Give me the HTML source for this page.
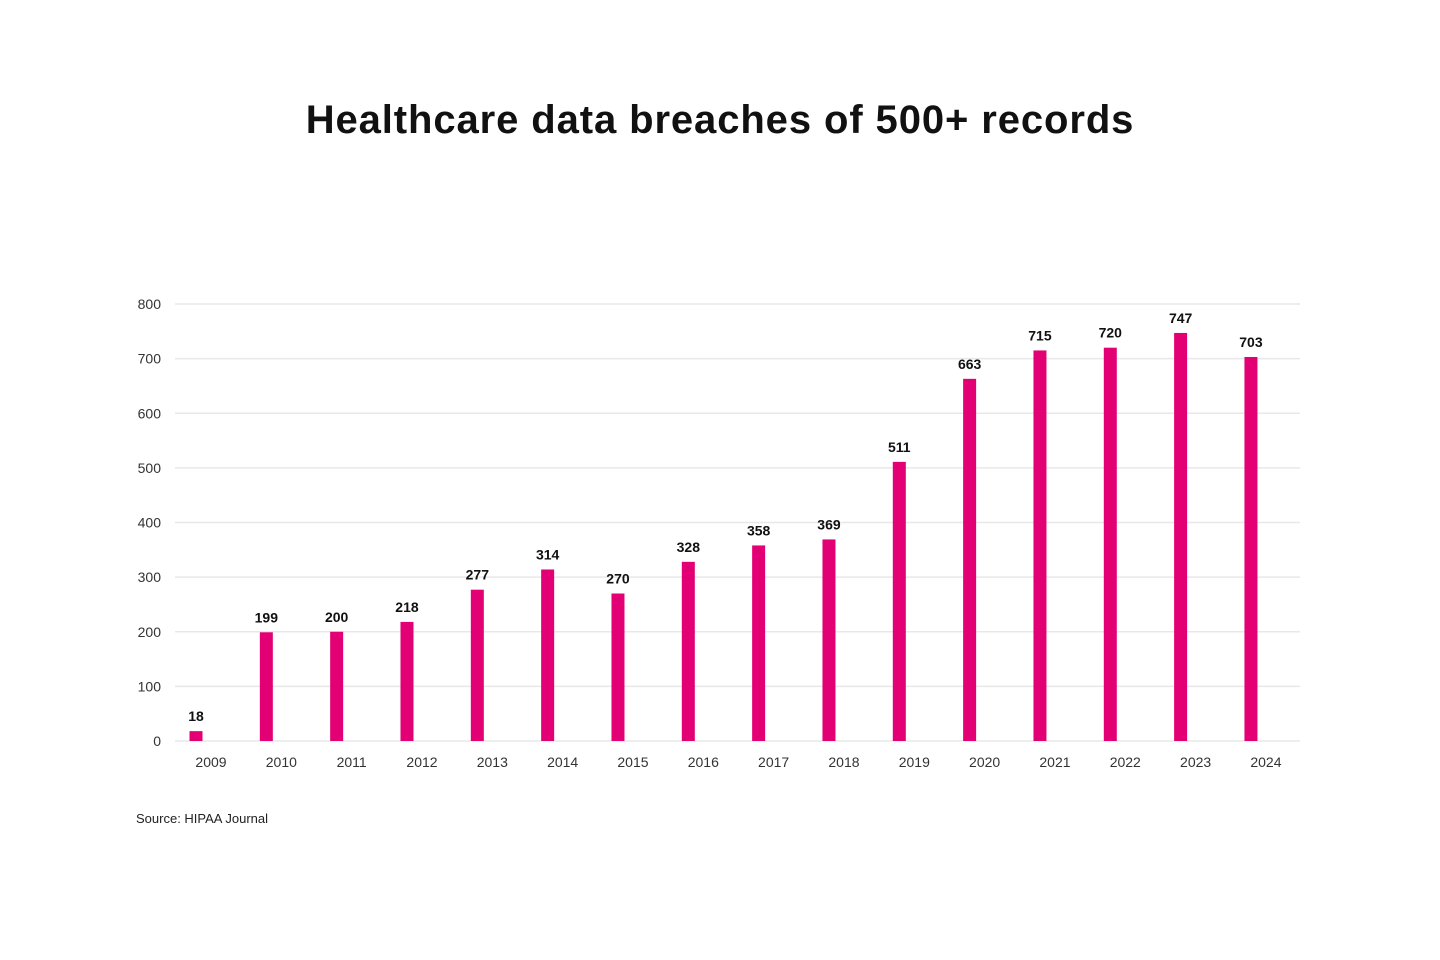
<!DOCTYPE html>
<html><head><meta charset="utf-8"><style>
html,body{margin:0;padding:0;background:#fff;}
body{width:1440px;height:960px;position:relative;font-family:"Liberation Sans",sans-serif;}
#title{position:absolute;left:0;width:1440px;top:98px;text-align:center;font-size:40px;font-weight:bold;color:#111;letter-spacing:0.9px;}
#src{position:absolute;left:136px;top:811px;font-size:13px;color:#222;}
svg{position:absolute;left:0;top:0;}
</style></head><body>
<div id="title">Healthcare data breaches of 500+ records</div>
<svg id="chart" width="1440" height="960"></svg>
<div id="src">Source: HIPAA Journal</div>
<script>
const categories=["2009","2010","2011","2012","2013","2014","2015","2016","2017","2018","2019","2020","2021","2022","2023","2024"];
const values=[18,199,200,218,277,314,270,328,358,369,511,663,715,720,747,703];
const yTicks=[0,100,200,300,400,500,600,700,800];
const NS="http://www.w3.org/2000/svg";
const svg=document.getElementById('chart');
const y0=741,y1=304,vmax=800;
function y(v){return y0-(v/vmax)*(y0-y1);}
function x(i){return 196+i*70.33;}
function mk(t,a){const e=document.createElementNS(NS,t);for(const k in a)e.setAttribute(k,a[k]);svg.appendChild(e);return e;}
yTicks.forEach(t=>{
  const g=mk('line',{x1:175,x2:1300,y1:y(t),y2:y(t),stroke:'#e8e8e8','stroke-width':1.5});
  
  
  const l=mk('text',{x:161,y:y(t)+5,'text-anchor':'end','font-size':14,fill:'#333','font-family':'Liberation Sans, sans-serif'});
  l.textContent=t;
  
  
});
categories.forEach((c,i)=>{
  const v=values[i];
  const b=mk('rect',{x:x(i)-6.5,y:y(v),width:13,height:y0-y(v),fill:'#e20074'});
  
  
  const vl=mk('text',{x:x(i),y:y(v)-10,'text-anchor':'middle','font-size':14,'font-weight':'bold',fill:'#111','font-family':'Liberation Sans, sans-serif'});
  vl.textContent=v;
  
  
  const xl=mk('text',{x:x(i)+15,y:767,'text-anchor':'middle','font-size':14,fill:'#333','font-family':'Liberation Sans, sans-serif'});
  xl.textContent=c;
  
  
});
</script>
</body></html>
